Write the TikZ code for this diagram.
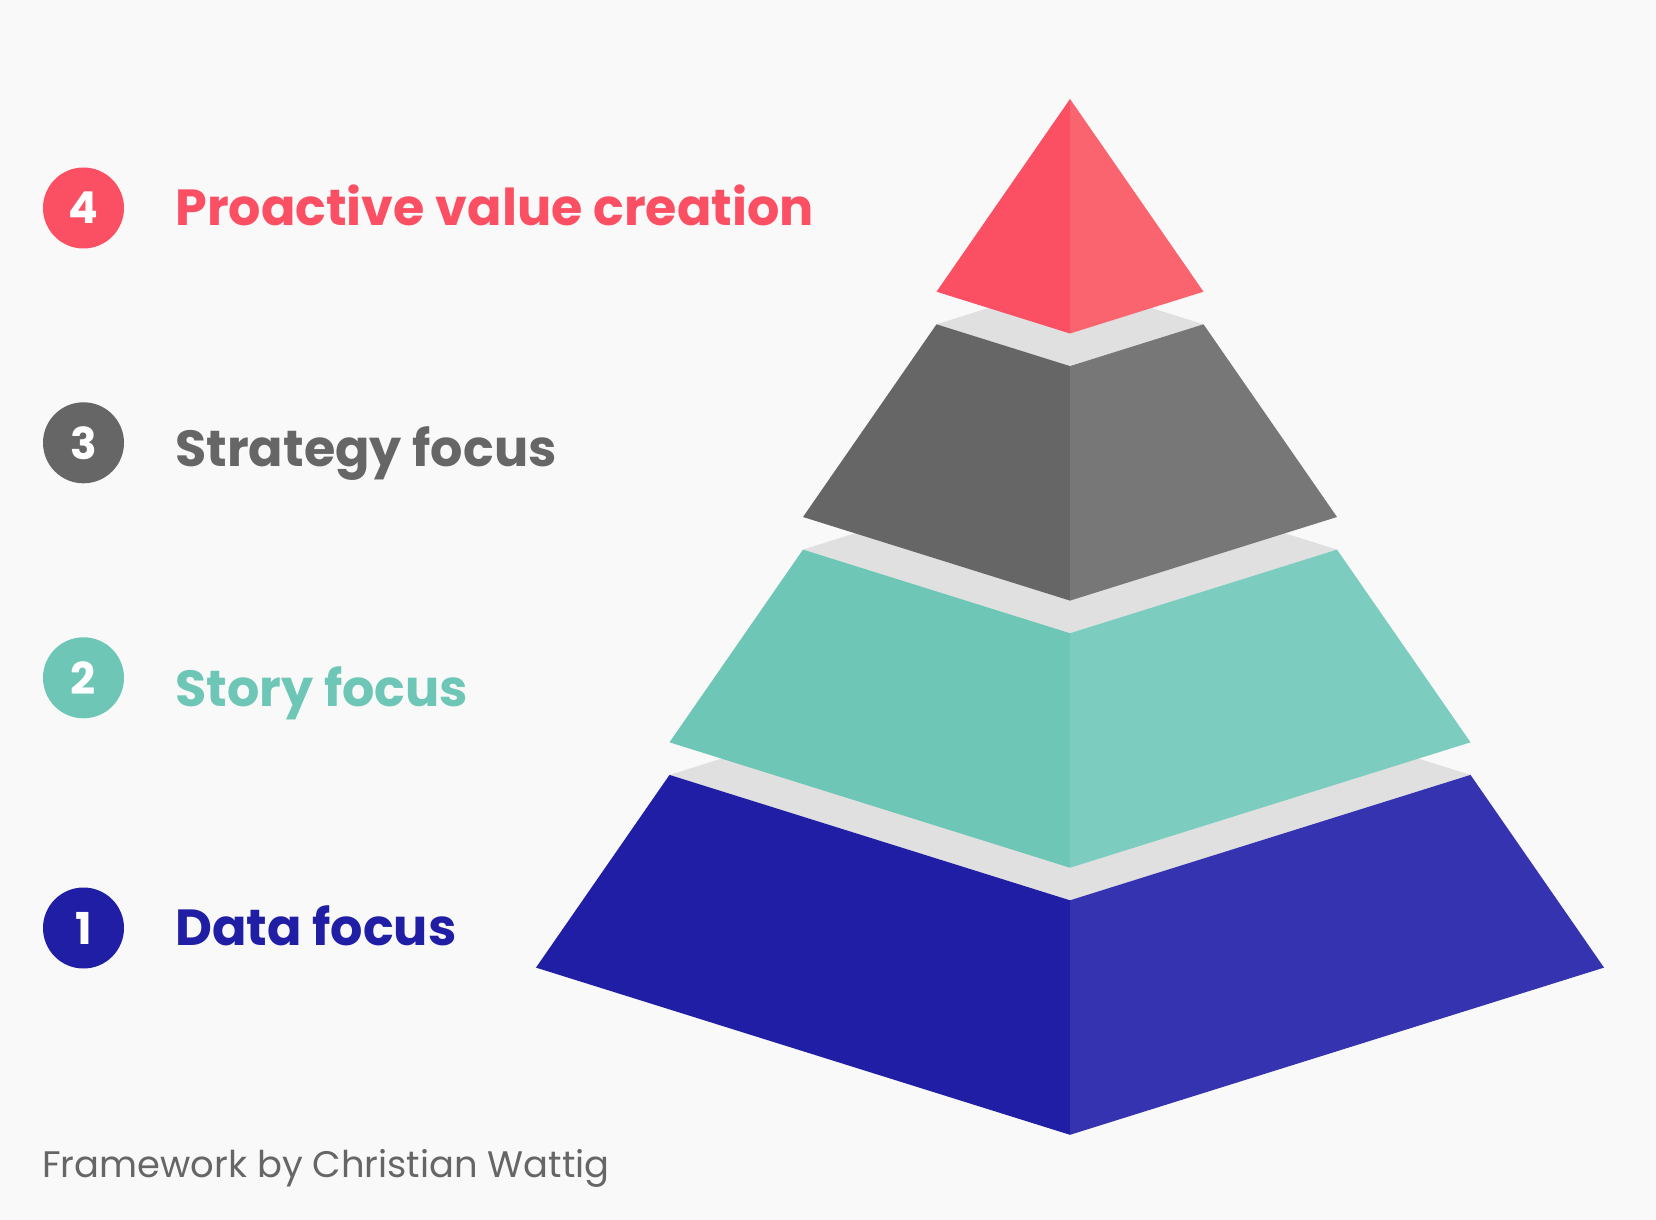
\documentclass[tikz,border=0pt]{standalone}
\usepackage{fontspec}
\setmainfont{Poppins}
\usepackage{tikz}
\usetikzlibrary{positioning}
\definecolor{PageBg}{HTML}{F9F9F9}
\definecolor{TopFace}{HTML}{E0E0E0}
\definecolor{RedL}{HTML}{FB5064}
\definecolor{RedR}{HTML}{F9646F}
\definecolor{GreyL}{HTML}{666666}
\definecolor{GreyR}{HTML}{777777}
\definecolor{TealL}{HTML}{6DC6B6}
\definecolor{TealR}{HTML}{7DCCC0}
\definecolor{BlueL}{HTML}{1F1EA5}
\definecolor{BlueR}{HTML}{3533AF}

\begin{document}
\begin{tikzpicture}[
  x=1cm,
  y=1cm,
  badge/.style={
    circle,
    fill=#1,
    text=white,
    inner sep=0pt,
    minimum size=1.62cm,
    font=\fontsize{25}{30}\selectfont\bfseries
  },
  level/.style={
    text=#1,
    inner sep=0pt,
    anchor=base west,
    font=\fontsize{28.9}{34}\selectfont\bfseries
  },
  credit/.style={
    text=GreyL,
    inner sep=0pt,
    anchor=base west,
    font=\fontsize{21}{26}\selectfont
  }
]
\fill[PageBg] (0,0) rectangle (33.12,-24.4);
\useasboundingbox (0,0) rectangle (33.12,-24.4);

% Tier 1 (bottom): data
\fill[TopFace] (13.39,-15.498) -- (21.4,-12.99) -- (29.41,-15.498) -- (21.4,-18.006) -- cycle;
\fill[BlueL] (13.39,-15.498) -- (21.4,-18.006) -- (21.4,-22.696) -- (10.72,-19.352) -- cycle;
\fill[BlueR] (29.41,-15.498) -- (21.4,-18.006) -- (21.4,-22.696) -- (32.08,-19.352) -- cycle;

% Tier 2: story
\fill[TopFace] (16.06,-10.992) -- (21.4,-9.32) -- (26.74,-10.992) -- (21.4,-12.664) -- cycle;
\fill[TealL] (16.06,-10.992) -- (21.4,-12.664) -- (21.4,-17.354) -- (13.39,-14.846) -- cycle;
\fill[TealR] (26.74,-10.992) -- (21.4,-12.664) -- (21.4,-17.354) -- (29.41,-14.846) -- cycle;

% Tier 3: strategy
\fill[TopFace] (18.73,-6.486) -- (21.4,-5.65) -- (24.07,-6.486) -- (21.4,-7.322) -- cycle;
\fill[GreyL] (18.73,-6.486) -- (21.4,-7.322) -- (21.4,-12.012) -- (16.06,-10.34) -- cycle;
\fill[GreyR] (24.07,-6.486) -- (21.4,-7.322) -- (21.4,-12.012) -- (26.74,-10.34) -- cycle;

% Tier 4 (top): proactive value
\fill[RedL] (21.4,-1.98) -- (21.4,-6.67) -- (18.73,-5.834) -- cycle;
\fill[RedR] (21.4,-1.98) -- (21.4,-6.67) -- (24.07,-5.834) -- cycle;

% Legend: numbered badges and labels
\node[badge=RedL] (n4) at (1.67,-4.16) {4};
\node[badge=GreyL] (n3) at (1.67,-8.856) {3};
\node[badge=TealL] (n2) at (1.67,-13.556) {2};
\node[badge=BlueL] (n1) at (1.67,-18.56) {1};

\node[level=RedL] (t4) at (3.5,-4.52) {Proactive value creation};
\node[level=GreyL] (t3) at (3.5,-9.32) {Strategy focus};
\node[level=TealL] (t2) at (3.5,-14.12) {Story focus};
\node[level=BlueL] (t1) at (3.5,-18.914) {Data focus};

\node[credit] (by) at (0.84,-23.55) {Framework by Christian Wattig};
\end{tikzpicture}
\end{document}
